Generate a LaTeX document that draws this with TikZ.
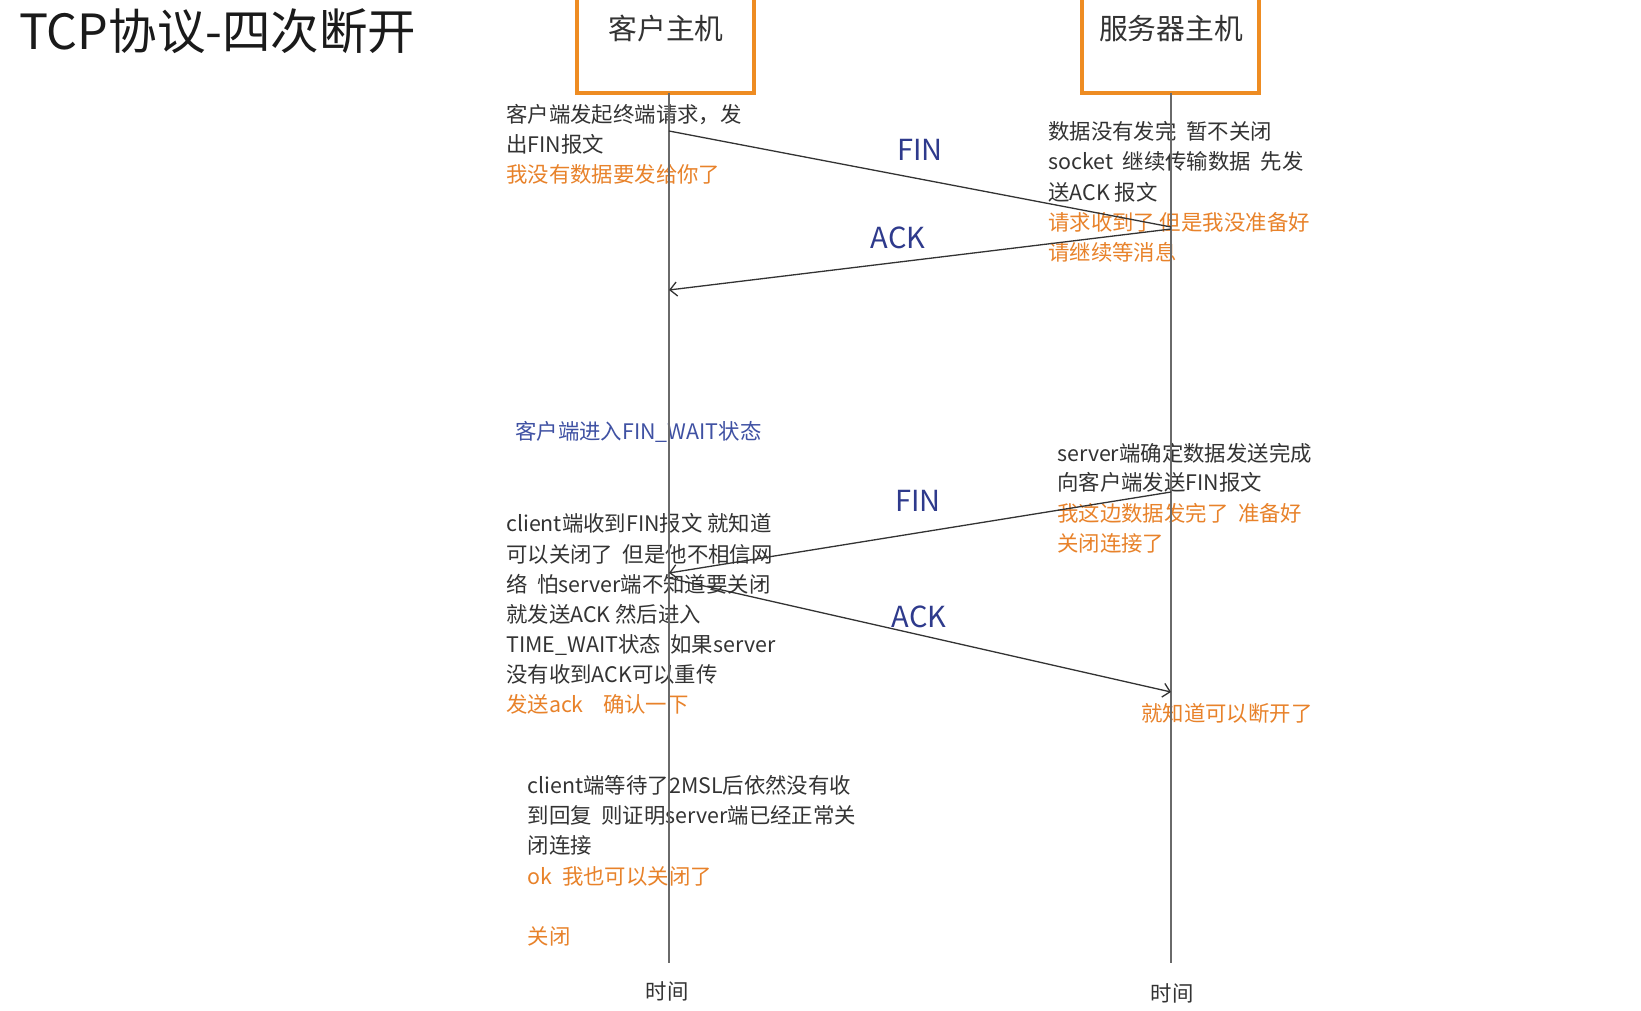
\documentclass[tikz,border=0pt]{standalone}
\usepackage{fontspec}
\setmainfont{Noto Sans CJK SC}
\usetikzlibrary{arrows.meta}
\definecolor{txt}{HTML}{333333}
\definecolor{orng}{HTML}{E8822A}
\definecolor{boxor}{HTML}{EE8C22}
\definecolor{lblue}{HTML}{2E3A8C}
\definecolor{sblue}{HTML}{3F51A3}
\definecolor{life}{HTML}{6A6A6A}
\definecolor{ttl}{HTML}{1A1A1A}
\begin{document}
\begin{tikzpicture}[x=1pt,y=-1pt,
  body/.style={font=\fontsize{21.4}{26}\selectfont, text=txt, anchor=west, inner sep=0pt, text height=0.8em, text depth=0.2em},
  note/.style={body, text=orng},
  state/.style={body, text=sblue},
  msglbl/.style={font=\fontsize{29}{32}\selectfont, text=lblue, inner sep=0pt},
  hostbox/.style={draw=boxor, line width=4pt, minimum width=177pt, minimum height=124pt, inner sep=0pt},
  hostlbl/.style={font=\fontsize{28.8}{32}\selectfont, text=txt, inner sep=0pt},
  timelbl/.style={font=\fontsize{21.4}{26}\selectfont, text=txt, inner sep=0pt},
  lifeline/.style={draw=life, line width=2pt},
  msgline/.style={draw=txt, line width=1.3pt},
  msg/.style={msgline, -{Straight Barb[length=7pt,width=14pt]}}
]
\useasboundingbox (0,0) rectangle (1641,1011);
\fill[white] (0,0) rectangle (1641,1011);

% title
\node[font=\fontsize{48.5}{52}\selectfont, text=ttl, anchor=west, inner sep=0pt] (title) at (19,31) {TCP协议-四次断开};

% hosts
\node[hostbox] (cbox) at (665.5,31) {};
\node[hostbox] (sbox) at (1170.5,31) {};
\node[hostlbl] (clbl) at (666,29) {客户主机};
\node[hostlbl] (slbl) at (1171,29) {服务器主机};

% left block 1
\node[body] (l1a) at (506,120) {客户端发起终端请求，发};
\node[body] (l1b) at (506,150) {出FIN报文};
\node[note] (l1c) at (506,180) {我没有数据要发给你了};

% right block 1
\node[body] (r1a) at (1048,137) {数据没有发完\hspace{0.45em}暂不关闭};
\node[body] (r1b) at (1048,167) {socket\hspace{0.45em}继续传输数据\hspace{0.45em}先发};
\node[body] (r1c) at (1048,197.5) {送ACK 报文};
\node[note] (r1d) at (1048,228) {请求收到了 但是我没准备好};
\node[note] (r1e) at (1048,257) {请继续等消息};

% state
\node[state] (fw) at (515,436) {客户端进入FIN\_WAIT状态};

% right block 2
\node[body] (r2a) at (1057,458) {server端确定数据发送完成};
\node[body] (r2b) at (1057,487.5) {向客户端发送FIN报文};
\node[note] (r2c) at (1057,518) {我这边数据发完了\hspace{0.45em}准备好};
\node[note] (r2d) at (1057,548) {关闭连接了};

% left block 2
\node[body] (l2a) at (506,528) {client端收到FIN报文 就知道};
\node[body] (l2b) at (506,559) {可以关闭了\hspace{0.45em}但是他不相信网};
\node[body] (l2c) at (506,589) {络\hspace{0.45em}怕server端不知道要关闭};
\node[body] (l2d) at (506,619) {就发送ACK 然后进入};
\node[body] (l2e) at (506,649.5) {TIME\_WAIT状态\hspace{0.45em}如果server};
\node[body] (l2f) at (506,679) {没有收到ACK可以重传};
\node[note] (l2g) at (506,709) {发送ack\hspace{0.9em}确认一下};

\node[note] (r3) at (1141,718) {就知道可以断开了};

% left block 3
\node[body] (l3a) at (527.5,790) {client端等待了2MSL后依然没有收};
\node[body] (l3b) at (527.5,820) {到回复\hspace{0.45em}则证明server端已经正常关};
\node[body] (l3c) at (527.5,850.5) {闭连接};
\node[note] (l3d) at (527.5,881) {ok\hspace{0.45em}我也可以关闭了};
\node[note] (l3e) at (527.5,941.5) {关闭};

% time labels
\node[timelbl] (ct) at (667,991) {时间};
\node[timelbl] (st) at (1172,993) {时间};

% lifelines
\coordinate (ctop) at (669,93);
\coordinate (cbot) at (669,963);
\coordinate (stop) at (1171,93);
\coordinate (sbot) at (1171,963);
\draw[lifeline] (ctop) -- (cbot);
\draw[lifeline] (stop) -- (sbot);

% message points
\coordinate (c1) at (669,131);
\coordinate (s1) at (1171,227);
\coordinate (s2) at (1171,229);
\coordinate (c2) at (669,290);
\coordinate (s3) at (1171,492);
\coordinate (c3) at (669,573);
\coordinate (c4) at (669,578);
\coordinate (s4) at (1171,692);

\draw[msgline] (c1) -- (s1);
\draw[msg] (s2) -- (c2);
\draw[msg] (s3) -- (c3);
\draw[msg] (c4) -- (s4);

\node[msglbl] (fin1) at (920,150) {FIN};
\node[msglbl] (ack1) at (898,238) {ACK};
\node[msglbl] (fin2) at (918,501) {FIN};
\node[msglbl] (ack2) at (919,617) {ACK};
\end{tikzpicture}
\end{document}
